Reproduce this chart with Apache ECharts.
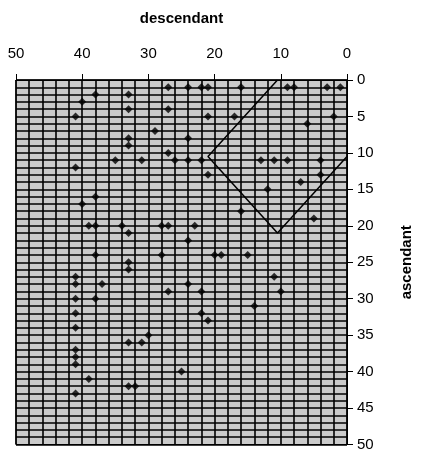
<!DOCTYPE html>
<html>
<head>
<meta charset="utf-8">
<script src="https://cdn.jsdelivr.net/npm/echarts@6/dist/echarts.min.js"></script>
<style>
  html, body { margin: 0; padding: 0; background: #fff; }
  #chart { width: 422px; height: 452px; }
</style>
</head>
<body>
<div id="chart"></div>
<script>
// descendant (x) and ascendant (y) values of each marked cell
const descendant = [
  27, 24, 22, 21, 16, 9, 8, 3, 1,
  38, 33, 40, 33, 27, 41, 21, 17, 2, 6,
  29, 33, 24, 33, 27,
  35, 31, 26, 24, 22, 13, 11, 9, 4,
  41, 21, 4, 7, 12, 38, 40, 16, 5,
  39, 38, 34, 28, 27, 23, 33, 24,
  38, 28, 20, 19, 15, 33, 33, 41, 11, 41, 37, 24,
  27, 22, 10, 41, 38, 14, 41, 22, 21, 41, 30, 33, 31, 41, 41, 41, 25, 39, 33, 32, 41
];
const ascendant = [
  1, 1, 1, 1, 1, 1, 1, 1, 1,
  2, 2, 3, 4, 4, 5, 5, 5, 5, 6,
  7, 8, 8, 9, 10,
  11, 11, 11, 11, 11, 11, 11, 11, 11,
  12, 13, 13, 14, 15, 16, 17, 18, 19,
  20, 20, 20, 20, 20, 20, 21, 22,
  24, 24, 24, 24, 24, 25, 26, 27, 27, 28, 28, 28,
  29, 29, 29, 30, 30, 31, 32, 32, 33, 34, 35, 36, 36, 37, 38, 39, 40, 41, 42, 42, 43
];

// outline drawn over the points
const outlineX = [10.5, 21, 10.5, 0];
const outlineY = [0, 10.5, 21, 10.5];

const chart = echarts.init(document.getElementById('chart'));

const font = 'Liberation Sans, Arial, sans-serif';

chart.setOption({
  animation: false,
  grid: {
    left: 16,
    right: 73,
    top: 80,
    bottom: 4,
    show: true,
    backgroundColor: '#cbcbcb',
    borderColor: '#000',
    borderWidth: 1
  },
  xAxis: {
    type: 'value',
    position: 'top',
    inverse: true,
    min: 0,
    max: 50,
    interval: 10,
    name: 'descendant',
    nameLocation: 'middle',
    nameGap: 54,
    nameTextStyle: { fontFamily: font, fontSize: 15, fontWeight: 'bold', color: '#000' },
    axisLine: { show: true, lineStyle: { color: '#000', width: 1 } },
    axisTick: { show: true, inside: false, length: 6, lineStyle: { color: '#000' } },
    axisLabel: { margin: 19, fontFamily: font, fontSize: 15, color: '#000' },
    splitLine: { show: true, lineStyle: { color: '#000', width: 1.6 } },
    minorTick: { show: false, splitNumber: 5 },
    minorSplitLine: { show: true, lineStyle: { color: '#000', width: 1.6 } }
  },
  yAxis: {
    type: 'value',
    position: 'right',
    inverse: true,
    min: 0,
    max: 50,
    interval: 5,
    name: 'ascendant',
    nameLocation: 'middle',
    nameGap: 52,
    nameRotate: 90,
    nameTextStyle: { fontFamily: font, fontSize: 15, fontWeight: 'bold', color: '#000' },
    axisLine: { show: true, lineStyle: { color: '#000', width: 1 } },
    axisTick: { show: true, inside: false, length: 6, lineStyle: { color: '#000' } },
    axisLabel: { margin: 10, fontFamily: font, fontSize: 15, color: '#000' },
    splitLine: { show: true, lineStyle: { color: '#000', width: 1.6 } },
    minorTick: { show: false, splitNumber: 5 },
    minorSplitLine: { show: true, lineStyle: { color: '#000', width: 1.6 } }
  },
  series: [
    {
      type: 'scatter',
      symbol: 'diamond',
      symbolSize: 8,
      itemStyle: { color: '#000' },
      data: descendant.map((d, i) => [d, ascendant[i]])
    },
    {
      type: 'line',
      symbol: 'none',
      lineStyle: { color: '#000', width: 1.5 },
      data: outlineX.map((d, i) => [d, outlineY[i]])
    }
  ]
});
</script>
</body>
</html>
